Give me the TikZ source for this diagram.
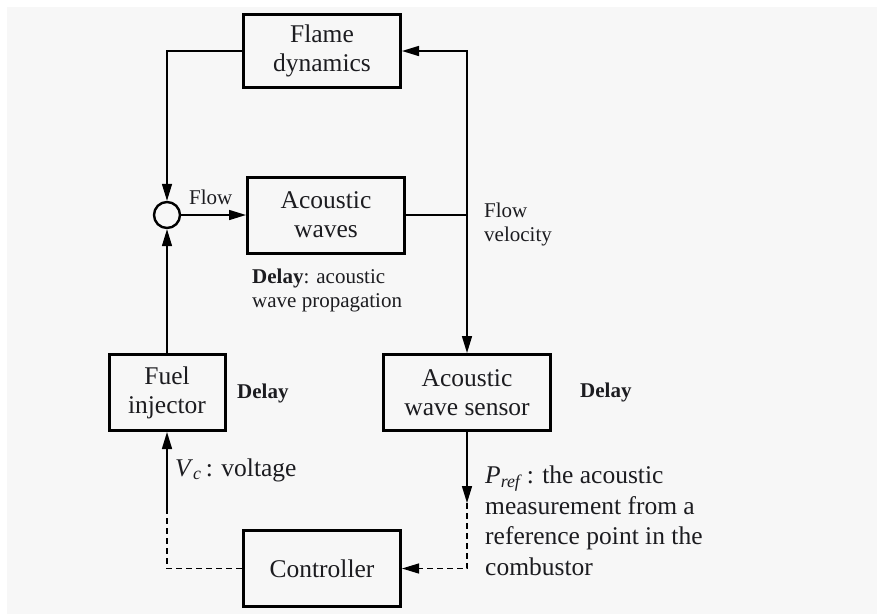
\documentclass[tikz,border=0pt]{standalone}
\usepackage{fontspec}
\setmainfont{Liberation Serif}
\usepackage{tikz}
\usetikzlibrary{positioning, arrows.meta}
\definecolor{PageGray}{RGB}{247, 247, 247}
\definecolor{InkBlack}{RGB}{28, 28, 32}

\begin{document}
\begin{tikzpicture}[x=1pt, y=-1pt,
    block/.style={draw, line width=3pt, inner sep=0pt, align=center, text=InkBlack, font=\fontsize{25.5}{29}\selectfont},
    sumnode/.style={draw, circle, line width=2.4pt, minimum size=26pt, inner sep=0pt},
    sig/.style={line width=1.5pt, -{Triangle[length=17pt, width=10pt]}},
    wire/.style={line width=1.5pt},
    dashwire/.style={line width=1.3pt, dash pattern=on 6pt off 4pt},
    lbl/.style={inner sep=0pt, anchor=west, align=left, text=InkBlack, font=\fontsize{21}{24}\selectfont},
    biglbl/.style={inner sep=0pt, anchor=west, align=left, text=InkBlack, font=\fontsize{25.5}{30.5}\selectfont}]

    % Page
    \fill[white] (0,0) rectangle (877,614);
    \fill[PageGray] (7,7) rectangle (877,614);
    \useasboundingbox (0,0) rectangle (877,614);

    % Blocks
    \node[block, minimum width=157pt, minimum height=73pt] (flame) at (322,51) {Flame\\dynamics};
    \node[block, minimum width=157pt, minimum height=76pt] (waves) at (326,215) {Acoustic\\waves};
    \node[sumnode] (sum) at (167,215) {};
    \node[block, minimum width=116pt, minimum height=76pt] (fuel) at (167,392.5) {Fuel\\injector};
    \node[block, minimum width=167pt, minimum height=76pt] (sensor) at (467,392.5) {Acoustic\\wave sensor};
    \node[block, minimum width=157pt, minimum height=76pt] (ctrl) at (322,568.5) {Controller};

    % Break points
    \coordinate (tap) at (sensor.north |- waves.east);
    \coordinate (vcbreak) at (167,510);
    \coordinate (prefbreak) at (467,503);

    % Forward path
    \draw[sig] (flame.west) -| (sum.north);
    \draw[sig] (sum.east) -- (waves.west);
    \draw[wire] (waves.east) -- (tap);
    \draw[sig] (tap) |- (flame.east);
    \draw[sig] (tap) -- (sensor.north);
    \draw[sig] (fuel.north) -- (sum.south);

    % Control loop
    \draw[sig] (sensor.south) -- (prefbreak);
    \draw[dashwire, -{Triangle[length=17pt, width=10pt]}] (prefbreak) |- (ctrl.east);
    \draw[dashwire] (ctrl.west) -| (vcbreak);
    \draw[sig] (vcbreak) -- (fuel.south);

    % Labels
    \node[lbl] (flowlbl) at (189,197) {Flow};
    \node[lbl] (velolbl) at (484,224) {Flow\\velocity};
    \node[lbl] (proplbl) at (252,290) {\textbf{Delay}: acoustic\\wave propagation};
    \node[lbl] (fueldelay) at (237,393) {\textbf{Delay}};
    \node[lbl] (sensordelay) at (580,392) {\textbf{Delay}};
    \node[biglbl] (vclbl) at (175,470) {\textit{V}\textsubscript{\textit{c}}\,: voltage};
    \node[biglbl] (preflbl) at (485,521) {\textit{P}\textsubscript{\textit{ref}}\,: the acoustic\\measurement from a\\reference point in the\\combustor};
\end{tikzpicture}
\end{document}
